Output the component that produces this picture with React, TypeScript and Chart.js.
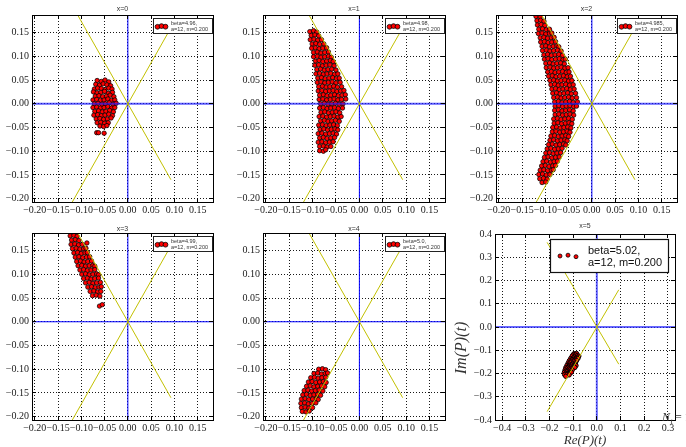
import React, { useEffect, useRef } from "react";
import { Chart, registerables } from "chart.js";
Chart.register(...registerables);

// ---------- data ----------
const titles = ["x=0", "x=1", "x=2", "x=3", "x=4", "x=5"];
const betaLabels = ["beta=4.96,", "beta=4.98,", "beta=4.985,", "beta=4.99,", "beta=5.0,", "beta=5.02,"];
const paramLabel = "a=12, m=0.200";
const smallTicks = [-0.2, -0.15, -0.1, -0.05, 0, 0.05, 0.1, 0.15];
const bigXTicks = [-0.4, -0.3, -0.2, -0.1, 0, 0.1, 0.2, 0.3];
const bigYTicks = [-0.4, -0.3, -0.2, -0.1, 0, 0.1, 0.2, 0.3, 0.4];
const smallRange = { xmin: -0.206, xmax: 0.183, ymin: -0.207, ymax: 0.187 };
const bigRange = { xmin: -0.43, xmax: 0.33, ymin: -0.4, ymax: 0.4 };
const yellowA: [number, number][] = [[-0.21, 0.364], [0.0925, -0.16]];
const yellowB: [number, number][] = [[-0.21, -0.364], [0.0925, 0.16]];
const hLine: [number, number][] = [[-1, 0], [1, 0]];
const vLine: [number, number][] = [[0, -1], [0, 1]];

const cloud0: [number, number][] = [
  [-0.066,0.049],[-0.057,0.047],[-0.049,0.050],[-0.041,0.046],
  [-0.069,0.041],[-0.061,0.039],[-0.053,0.042],[-0.045,0.040],[-0.037,0.038],
  [-0.072,0.031],[-0.065,0.033],[-0.057,0.032],[-0.049,0.030],[-0.041,0.033],[-0.034,0.031],
  [-0.074,0.025],[-0.066,0.023],[-0.058,0.024],[-0.050,0.026],[-0.042,0.022],[-0.033,0.024],
  [-0.070,0.016],[-0.062,0.017],[-0.054,0.015],[-0.046,0.016],[-0.038,0.018],[-0.030,0.015],
  [-0.075,0.008],[-0.067,0.009],[-0.059,0.007],[-0.051,0.008],[-0.043,0.010],[-0.035,0.007],[-0.028,0.008],
  [-0.072,0.000],[-0.064,0.001],[-0.056,-0.001],[-0.048,0.000],[-0.040,0.002],[-0.032,-0.001],[-0.025,0.001],
  [-0.075,-0.008],[-0.067,-0.007],[-0.059,-0.009],[-0.051,-0.008],[-0.043,-0.006],[-0.035,-0.009],[-0.028,-0.008],
  [-0.071,-0.016],[-0.063,-0.015],[-0.055,-0.017],[-0.047,-0.016],[-0.039,-0.014],[-0.031,-0.017],
  [-0.073,-0.024],[-0.065,-0.023],[-0.057,-0.025],[-0.049,-0.024],[-0.041,-0.022],[-0.033,-0.025],
  [-0.068,-0.032],[-0.060,-0.031],[-0.052,-0.033],[-0.044,-0.032],[-0.036,-0.030],
  [-0.066,-0.040],[-0.058,-0.039],[-0.050,-0.041],[-0.042,-0.040],
  [-0.060,-0.047],[-0.052,-0.048],[-0.045,-0.046],
  [-0.067,-0.061],[-0.063,-0.061],[-0.051,-0.062],
];

const cloud1: [number, number][] = [
  [-0.106,0.152],[-0.098,0.154],[-0.091,0.151],
  [-0.103,0.144],[-0.095,0.145],[-0.087,0.143],
  [-0.105,0.135],[-0.097,0.136],[-0.089,0.134],[-0.081,0.135],
  [-0.101,0.126],[-0.093,0.127],[-0.085,0.125],[-0.076,0.126],
  [-0.102,0.117],[-0.094,0.118],[-0.086,0.116],[-0.078,0.117],[-0.070,0.118],
  [-0.098,0.108],[-0.090,0.109],[-0.082,0.107],[-0.074,0.108],[-0.066,0.109],
  [-0.098,0.099],[-0.090,0.100],[-0.082,0.098],[-0.074,0.099],[-0.066,0.100],[-0.060,0.098],
  [-0.094,0.090],[-0.086,0.091],[-0.078,0.089],[-0.070,0.090],[-0.062,0.091],[-0.056,0.089],
  [-0.095,0.081],[-0.087,0.082],[-0.079,0.080],[-0.071,0.081],[-0.063,0.082],[-0.054,0.080],
  [-0.091,0.072],[-0.083,0.073],[-0.075,0.071],[-0.067,0.072],[-0.059,0.073],[-0.050,0.071],
  [-0.093,0.063],[-0.085,0.064],[-0.077,0.062],[-0.069,0.063],[-0.061,0.064],[-0.053,0.062],[-0.046,0.063],
  [-0.089,0.054],[-0.081,0.055],[-0.073,0.053],[-0.065,0.054],[-0.057,0.055],[-0.049,0.053],[-0.043,0.054],
  [-0.090,0.045],[-0.082,0.046],[-0.074,0.044],[-0.066,0.045],[-0.058,0.046],[-0.050,0.044],[-0.041,0.045],
  [-0.087,0.036],[-0.079,0.037],[-0.071,0.035],[-0.063,0.036],[-0.055,0.037],[-0.047,0.035],[-0.038,0.036],
  [-0.088,0.027],[-0.080,0.028],[-0.072,0.026],[-0.064,0.027],[-0.056,0.028],[-0.048,0.026],[-0.040,0.027],[-0.033,0.028],
  [-0.085,0.018],[-0.077,0.019],[-0.069,0.017],[-0.061,0.018],[-0.053,0.019],[-0.045,0.017],[-0.037,0.018],[-0.030,0.019],
  [-0.086,0.009],[-0.078,0.010],[-0.070,0.008],[-0.062,0.009],[-0.054,0.010],[-0.046,0.008],[-0.038,0.009],[-0.029,0.010],
  [-0.083,0.000],[-0.075,0.001],[-0.067,-0.001],[-0.059,0.000],[-0.051,0.001],[-0.043,-0.001],[-0.035,0.000],
  [-0.085,-0.009],[-0.077,-0.008],[-0.069,-0.010],[-0.061,-0.009],[-0.053,-0.008],[-0.045,-0.010],[-0.036,-0.009],
  [-0.082,-0.018],[-0.074,-0.017],[-0.066,-0.019],[-0.058,-0.018],[-0.050,-0.017],[-0.042,-0.019],
  [-0.086,-0.027],[-0.078,-0.026],[-0.070,-0.028],[-0.062,-0.027],[-0.054,-0.026],[-0.046,-0.028],[-0.039,-0.027],
  [-0.083,-0.036],[-0.075,-0.035],[-0.067,-0.037],[-0.059,-0.036],[-0.051,-0.035],[-0.043,-0.037],
  [-0.087,-0.045],[-0.079,-0.044],[-0.071,-0.046],[-0.063,-0.045],[-0.055,-0.044],[-0.047,-0.046],
  [-0.084,-0.054],[-0.076,-0.053],[-0.068,-0.055],[-0.060,-0.054],[-0.052,-0.053],[-0.046,-0.055],
  [-0.088,-0.063],[-0.080,-0.062],[-0.072,-0.064],[-0.064,-0.063],[-0.056,-0.062],[-0.049,-0.064],
  [-0.085,-0.072],[-0.077,-0.071],[-0.069,-0.073],[-0.061,-0.072],[-0.053,-0.071],
  [-0.088,-0.081],[-0.080,-0.080],[-0.072,-0.082],[-0.064,-0.081],[-0.056,-0.080],
  [-0.085,-0.090],[-0.077,-0.089],[-0.069,-0.091],[-0.061,-0.090],
  [-0.085,-0.099],[-0.077,-0.100],[-0.072,-0.097],
];

const cloud2: [number, number][] = [
  [-0.120,0.184],[-0.111,0.183],
  [-0.118,0.175],[-0.110,0.176],[-0.103,0.174],
  [-0.117,0.166],[-0.109,0.167],[-0.101,0.165],
  [-0.114,0.157],[-0.106,0.158],[-0.098,0.156],[-0.091,0.157],
  [-0.115,0.148],[-0.107,0.149],[-0.099,0.147],[-0.091,0.148],[-0.086,0.149],
  [-0.111,0.139],[-0.103,0.140],[-0.095,0.138],[-0.087,0.139],[-0.081,0.140],
  [-0.110,0.130],[-0.102,0.131],[-0.094,0.129],[-0.086,0.130],[-0.078,0.131],
  [-0.107,0.121],[-0.099,0.122],[-0.091,0.120],[-0.083,0.121],[-0.075,0.122],[-0.071,0.120],
  [-0.106,0.112],[-0.098,0.113],[-0.090,0.111],[-0.082,0.112],[-0.074,0.113],[-0.066,0.111],
  [-0.103,0.103],[-0.095,0.104],[-0.087,0.102],[-0.079,0.103],[-0.071,0.104],[-0.063,0.102],
  [-0.102,0.094],[-0.094,0.095],[-0.086,0.093],[-0.078,0.094],[-0.070,0.095],[-0.062,0.093],[-0.057,0.094],
  [-0.099,0.085],[-0.091,0.086],[-0.083,0.084],[-0.075,0.085],[-0.067,0.086],[-0.059,0.084],
  [-0.098,0.076],[-0.090,0.077],[-0.082,0.075],[-0.074,0.076],[-0.066,0.077],[-0.058,0.075],[-0.051,0.076],
  [-0.095,0.067],[-0.087,0.068],[-0.079,0.066],[-0.071,0.067],[-0.063,0.068],[-0.055,0.066],[-0.049,0.067],
  [-0.093,0.058],[-0.085,0.059],[-0.077,0.057],[-0.069,0.058],[-0.061,0.059],[-0.053,0.057],[-0.046,0.058],
  [-0.090,0.049],[-0.082,0.050],[-0.074,0.048],[-0.066,0.049],[-0.058,0.050],[-0.050,0.048],[-0.043,0.049],
  [-0.088,0.040],[-0.080,0.041],[-0.072,0.039],[-0.064,0.040],[-0.056,0.041],[-0.048,0.039],[-0.040,0.040],
  [-0.086,0.031],[-0.078,0.032],[-0.070,0.030],[-0.062,0.031],[-0.054,0.032],[-0.046,0.030],[-0.038,0.031],
  [-0.084,0.022],[-0.076,0.023],[-0.068,0.021],[-0.060,0.022],[-0.052,0.023],[-0.044,0.021],[-0.035,0.022],
  [-0.082,0.013],[-0.074,0.014],[-0.066,0.012],[-0.058,0.013],[-0.050,0.014],[-0.042,0.012],[-0.033,0.013],
  [-0.080,0.004],[-0.072,0.005],[-0.064,0.003],[-0.056,0.004],[-0.048,0.005],[-0.040,0.003],[-0.031,0.004],
  [-0.079,-0.005],[-0.071,-0.004],[-0.063,-0.006],[-0.055,-0.005],[-0.047,-0.004],[-0.039,-0.006],[-0.033,-0.005],
  [-0.080,-0.014],[-0.072,-0.013],[-0.064,-0.015],[-0.056,-0.014],[-0.048,-0.013],[-0.040,-0.015],
  [-0.079,-0.023],[-0.071,-0.022],[-0.063,-0.024],[-0.055,-0.023],[-0.047,-0.022],[-0.039,-0.024],
  [-0.082,-0.032],[-0.074,-0.031],[-0.066,-0.033],[-0.058,-0.032],[-0.050,-0.031],[-0.042,-0.033],
  [-0.081,-0.041],[-0.073,-0.040],[-0.065,-0.042],[-0.057,-0.041],[-0.049,-0.040],[-0.043,-0.042],
  [-0.084,-0.050],[-0.076,-0.049],[-0.068,-0.051],[-0.060,-0.050],[-0.052,-0.049],[-0.045,-0.051],
  [-0.085,-0.059],[-0.077,-0.058],[-0.069,-0.060],[-0.061,-0.059],[-0.053,-0.058],[-0.047,-0.060],
  [-0.088,-0.068],[-0.080,-0.067],[-0.072,-0.069],[-0.064,-0.068],[-0.056,-0.067],[-0.050,-0.069],
  [-0.090,-0.077],[-0.082,-0.076],[-0.074,-0.078],[-0.066,-0.077],[-0.058,-0.076],[-0.053,-0.078],
  [-0.093,-0.086],[-0.085,-0.085],[-0.077,-0.087],[-0.069,-0.086],[-0.061,-0.085],[-0.056,-0.087],
  [-0.096,-0.095],[-0.088,-0.094],[-0.080,-0.096],[-0.072,-0.095],[-0.064,-0.094],
  [-0.099,-0.104],[-0.091,-0.103],[-0.083,-0.105],[-0.075,-0.104],[-0.067,-0.103],
  [-0.102,-0.113],[-0.094,-0.112],[-0.086,-0.114],[-0.078,-0.113],[-0.070,-0.112],
  [-0.105,-0.122],[-0.097,-0.121],[-0.089,-0.123],[-0.081,-0.122],[-0.074,-0.121],
  [-0.108,-0.131],[-0.100,-0.130],[-0.092,-0.132],[-0.084,-0.131],[-0.078,-0.130],
  [-0.111,-0.140],[-0.103,-0.139],[-0.095,-0.141],[-0.087,-0.140],[-0.083,-0.139],
  [-0.114,-0.149],[-0.106,-0.148],[-0.098,-0.150],[-0.090,-0.149],
  [-0.112,-0.158],[-0.104,-0.157],[-0.096,-0.159],
  [-0.107,-0.166],[-0.099,-0.165],
];

const cloud3: [number, number][] = [
  [-0.124,0.181],[-0.116,0.182],[-0.109,0.180],
  [-0.121,0.172],[-0.113,0.173],[-0.105,0.171],
  [-0.122,0.163],[-0.114,0.164],[-0.106,0.162],[-0.098,0.163],
  [-0.119,0.154],[-0.111,0.155],[-0.103,0.153],[-0.095,0.154],[-0.090,0.155],
  [-0.116,0.145],[-0.108,0.146],[-0.100,0.144],[-0.092,0.145],[-0.087,0.146],
  [-0.113,0.136],[-0.105,0.137],[-0.097,0.135],[-0.089,0.136],[-0.082,0.137],
  [-0.110,0.127],[-0.102,0.128],[-0.094,0.126],[-0.086,0.127],[-0.078,0.128],
  [-0.107,0.118],[-0.099,0.119],[-0.091,0.117],[-0.083,0.118],[-0.075,0.119],[-0.071,0.117],
  [-0.103,0.109],[-0.095,0.110],[-0.087,0.108],[-0.079,0.109],[-0.071,0.110],
  [-0.099,0.100],[-0.091,0.101],[-0.083,0.099],[-0.075,0.100],[-0.067,0.101],[-0.063,0.099],
  [-0.095,0.091],[-0.087,0.092],[-0.079,0.090],[-0.071,0.091],[-0.063,0.092],
  [-0.091,0.082],[-0.083,0.083],[-0.075,0.081],[-0.067,0.082],[-0.059,0.083],
  [-0.086,0.073],[-0.078,0.074],[-0.070,0.072],[-0.062,0.073],[-0.057,0.074],
  [-0.081,0.064],[-0.073,0.065],[-0.065,0.063],[-0.058,0.064],
  [-0.076,0.055],[-0.068,0.056],[-0.060,0.054],
  [-0.061,0.033],[-0.055,0.036],[-0.088,0.166],
];

const cloud4: [number, number][] = [
  [-0.087,-0.100],[-0.079,-0.099],[-0.072,-0.101],
  [-0.097,-0.109],[-0.089,-0.108],[-0.081,-0.110],[-0.073,-0.109],[-0.068,-0.108],
  [-0.104,-0.118],[-0.096,-0.117],[-0.088,-0.119],[-0.080,-0.118],[-0.072,-0.117],
  [-0.109,-0.127],[-0.101,-0.126],[-0.093,-0.128],[-0.085,-0.127],[-0.077,-0.126],[-0.071,-0.128],
  [-0.113,-0.136],[-0.105,-0.135],[-0.097,-0.137],[-0.089,-0.136],[-0.081,-0.135],[-0.074,-0.137],
  [-0.118,-0.145],[-0.110,-0.144],[-0.102,-0.146],[-0.094,-0.145],[-0.086,-0.144],[-0.078,-0.146],
  [-0.121,-0.154],[-0.113,-0.153],[-0.105,-0.155],[-0.097,-0.154],[-0.089,-0.153],[-0.083,-0.155],
  [-0.124,-0.163],[-0.116,-0.162],[-0.108,-0.164],[-0.100,-0.163],[-0.092,-0.162],[-0.088,-0.164],
  [-0.125,-0.172],[-0.117,-0.171],[-0.109,-0.173],[-0.101,-0.172],[-0.093,-0.171],
  [-0.124,-0.181],[-0.116,-0.180],[-0.108,-0.182],[-0.100,-0.181],
  [-0.122,-0.189],[-0.114,-0.190],[-0.107,-0.188],
];

const cloud5: [number, number][] = [
  [-0.096,-0.115],[-0.086,-0.114],
  [-0.100,-0.120],[-0.090,-0.120],
  [-0.104,-0.125],[-0.094,-0.126],[-0.084,-0.124],[-0.076,-0.125],
  [-0.095,-0.130],[-0.080,-0.130],
  [-0.110,-0.135],[-0.100,-0.134],[-0.090,-0.136],[-0.080,-0.135],
  [-0.105,-0.140],[-0.091,-0.140],
  [-0.116,-0.145],[-0.106,-0.146],[-0.096,-0.144],[-0.086,-0.145],
  [-0.111,-0.150],[-0.097,-0.150],
  [-0.121,-0.155],[-0.111,-0.154],[-0.101,-0.156],[-0.091,-0.155],
  [-0.117,-0.160],[-0.103,-0.160],[-0.091,-0.160],
  [-0.126,-0.165],[-0.116,-0.166],[-0.106,-0.164],[-0.096,-0.165],[-0.088,-0.166],
  [-0.121,-0.170],[-0.107,-0.170],[-0.097,-0.170],
  [-0.131,-0.175],[-0.121,-0.174],[-0.111,-0.176],[-0.101,-0.175],[-0.093,-0.174],
  [-0.128,-0.180],[-0.117,-0.180],[-0.108,-0.180],
  [-0.134,-0.185],[-0.124,-0.186],[-0.114,-0.184],[-0.104,-0.185],
  [-0.130,-0.190],[-0.120,-0.190],[-0.112,-0.190],
  [-0.137,-0.195],[-0.127,-0.194],[-0.117,-0.196],[-0.108,-0.195],
  [-0.131,-0.200],[-0.122,-0.200],
  [-0.136,-0.205],[-0.126,-0.204],[-0.117,-0.206],
  [-0.131,-0.212],
];

const clouds = [cloud0, cloud1, cloud2, cloud3, cloud4, cloud5];

// ---------- layout / style ----------
type PanelCfg = {
  idx: number; cx: number; cy: number; cw: number; ch: number;
  yw: number; padTop: number; padRight: number; padBottom: number;
  big: boolean; hW: number; hC: string; vW: number; vC: string; titleDy: number;
};

const panels: PanelCfg[] = [
  { idx: 0, cx: 0, cy: 0, cw: 221, ch: 228, yw: 32, padTop: 15, padRight: 8, padBottom: 2, big: false, hW: 2, hC: "rgba(30,30,255,0.7)", vW: 1, vC: "#0000ff", titleDy: 5.8 },
  { idx: 1, cx: 231, cy: 0, cw: 222, ch: 228, yw: 32, padTop: 15, padRight: 8, padBottom: 2, big: false, hW: 2, hC: "rgba(30,30,255,0.7)", vW: 1, vC: "#0000ff", titleDy: 5.8 },
  { idx: 2, cx: 464, cy: 0, cw: 221, ch: 228, yw: 32, padTop: 15, padRight: 8, padBottom: 2, big: false, hW: 2, hC: "rgba(30,30,255,0.7)", vW: 1, vC: "#0000ff", titleDy: 5.8 },
  { idx: 3, cx: 0, cy: 218, cw: 221, ch: 228, yw: 32, padTop: 15, padRight: 8, padBottom: 2, big: false, hW: 1, hC: "#0000ff", vW: 1, vC: "#0000ff", titleDy: 4 },
  { idx: 4, cx: 231, cy: 218, cw: 222, ch: 228, yw: 32, padTop: 15, padRight: 8, padBottom: 2, big: false, hW: 1, hC: "#0000ff", vW: 1, vC: "#0000ff", titleDy: 4 },
  { idx: 5, cx: 445, cy: 220, cw: 241, ch: 227, yw: 50, padTop: 14, padRight: 11, padBottom: 3, big: true, hW: 2, hC: "rgba(40,40,255,0.7)", vW: 2, vC: "rgba(40,40,255,0.7)", titleDy: 8 },
];

const toXY = (arr: [number, number][]) => arr.map(([x, y]) => ({ x, y }));
const fmt = (v: number, d: number) => (v < -1e-9 ? "\u2212" : "") + Math.abs(v).toFixed(d);
const align = (p: number) => Math.round(p - 0.5) + 0.5;

function overlayPlugin(p: PanelCfg) {
  const xt = p.big ? bigXTicks : smallTicks;
  const yt = p.big ? bigYTicks : smallTicks;
  return {
    id: "overlay" + p.idx,
    afterDatasetsDraw(chart: any) {
      const { ctx, chartArea: a, scales } = chart;
      ctx.save();
      ctx.strokeStyle = "#000";
      ctx.lineWidth = 1;
      ctx.setLineDash([]);
      ctx.beginPath();
      for (const v of xt) {
        const px = align(scales.x.getPixelForValue(v));
        ctx.moveTo(px, a.top); ctx.lineTo(px, a.top + 4);
        ctx.moveTo(px, a.bottom); ctx.lineTo(px, a.bottom - 4);
      }
      for (const v of yt) {
        const py = align(scales.y.getPixelForValue(v));
        ctx.moveTo(a.left, py); ctx.lineTo(a.left + 4, py);
        ctx.moveTo(a.right, py); ctx.lineTo(a.right - 4, py);
      }
      ctx.stroke();
      ctx.strokeRect(align(a.left), align(a.top), Math.round(a.right - a.left), Math.round(a.bottom - a.top));
      ctx.restore();
    },
    afterDraw(chart: any) {
      const { ctx, chartArea: a } = chart;
      ctx.save();
      // title
      ctx.fillStyle = "#333";
      ctx.font = "7px 'Liberation Sans', Arial, sans-serif";
      ctx.textAlign = "center";
      ctx.textBaseline = "middle";
      ctx.fillText(titles[p.idx], (a.left + a.right) / 2, a.top - p.titleDy);
      // legend
      const drawMarker = (x: number, y: number, r: number) => {
        ctx.beginPath();
        ctx.arc(x, y, r, 0, Math.PI * 2);
        ctx.fillStyle = "#ff0000";
        ctx.fill();
        ctx.lineWidth = 0.8;
        ctx.strokeStyle = "#000";
        ctx.stroke();
      };
      if (!p.big) {
        const bx = a.right - 60, by = a.top + 3, bw = 59, bh = 15;
        ctx.fillStyle = "#fff";
        ctx.fillRect(bx, by, bw, bh);
        ctx.lineWidth = 1;
        ctx.strokeStyle = "#222";
        ctx.strokeRect(align(bx), align(by), bw, bh);
        const offs = [0.3, -0.4, 0.2];
        [4.5, 8.5, 12.5].forEach((dx, i) => drawMarker(bx + dx, by + 8.5 + offs[i], 2.4));
        ctx.fillStyle = "#333";
        ctx.font = "5.5px 'Liberation Sans', Arial, sans-serif";
        ctx.textAlign = "left";
        ctx.textBaseline = "alphabetic";
        ctx.fillText(betaLabels[p.idx], bx + 18, by + 7);
        ctx.fillText(paramLabel, bx + 18, by + 13);
      } else {
        const bx = a.right - 125, by = a.top + 5, bw = 118, bh = 33;
        ctx.fillStyle = "#fff";
        ctx.fillRect(bx, by, bw, bh);
        ctx.lineWidth = 1.2;
        ctx.strokeStyle = "#111";
        ctx.strokeRect(align(bx), align(by), bw, bh);
        const offs = [0.5, -0.3, 1.2];
        [10, 18, 26].forEach((dx, i) => drawMarker(bx + dx, by + 16.5 + offs[i], 2));
        ctx.fillStyle = "#111";
        ctx.font = "11px 'Liberation Sans', Arial, sans-serif";
        ctx.textAlign = "left";
        ctx.textBaseline = "alphabetic";
        ctx.fillText(betaLabels[p.idx], bx + 38, by + 14.5);
        ctx.fillText(paramLabel, bx + 38, by + 26.5);
        // axis labels
        ctx.fillStyle = "#333";
        ctx.font = "italic 13px 'Liberation Serif', 'DejaVu Serif', serif";
        ctx.textAlign = "center";
        ctx.textBaseline = "middle";
        ctx.fillText("Re(P)(t)", (a.left + a.right) / 2, 221);
        ctx.save();
        ctx.translate(17, 128);
        ctx.rotate(-Math.PI / 2);
        ctx.font = "italic 16px 'Liberation Serif', 'DejaVu Serif', serif";
        ctx.fillText("Im(P)(t)", 0, 0);
        ctx.restore();
        ctx.textAlign = "left";
        ctx.textBaseline = "alphabetic";
        ctx.font = "italic 12px 'Liberation Serif', serif";
        ctx.fillText("N", 217, 201);
        ctx.font = "italic 8px 'Liberation Serif', serif";
        ctx.fillText("t", 225.5, 204);
        ctx.font = "12px 'Liberation Serif', serif";
        ctx.fillText("= 1", 230, 201);
      }
      ctx.restore();
    },
  };
}

function makeChart(canvas: HTMLCanvasElement, p: PanelCfg) {
  const r = p.big ? bigRange : smallRange;
  const xt = p.big ? bigXTicks : smallTicks;
  const yt = p.big ? bigYTicks : smallTicks;
  const dec = p.big ? 1 : 2;
  const tickFont = { family: "'Liberation Serif', 'DejaVu Serif', serif", size: 10 };
  const gridCfg = { color: "rgba(0,0,0,0.9)", lineWidth: 1, drawTicks: false };
  const lineDs = (data: [number, number][], color: string, w: number) => ({
    data: toXY(data), showLine: true, borderColor: color, borderWidth: w,
    pointRadius: 0, fill: false, order: 0,
  });
  return new Chart(canvas, {
    type: "scatter",
    data: {
      datasets: [
        lineDs(yellowA, "#c2c000", 1),
        lineDs(yellowB, "#c2c000", 1),
        lineDs(hLine, p.hC, p.hW),
        lineDs(vLine, p.vC, p.vW),
        {
          data: toXY(clouds[p.idx]), showLine: false, order: 1,
          pointRadius: 2.2, pointBackgroundColor: "#ff0000",
          pointBorderColor: "#000", pointBorderWidth: p.big ? 1 : 0.75,
        },
      ],
    } as any,
    options: {
      responsive: false,
      animation: false,
      events: [],
      layout: { padding: { left: 0, top: p.padTop, right: p.padRight, bottom: p.padBottom } },
      plugins: { legend: { display: false }, tooltip: { enabled: false }, title: { display: false } },
      scales: {
        x: {
          type: "linear", min: r.xmin, max: r.xmax,
          afterBuildTicks: (s: any) => { s.ticks = xt.map((v) => ({ value: v })); },
          afterFit: (s: any) => { s.height = 24; },
          grid: gridCfg,
          border: { display: false, dash: [1, 2] },
          ticks: {
            autoSkip: false, maxRotation: 0, minRotation: 0, padding: 2,
            color: "#1a1a1a", font: tickFont,
            callback: (v: any) => fmt(Number(v), dec),
          },
        },
        y: {
          type: "linear", min: r.ymin, max: r.ymax,
          afterBuildTicks: (s: any) => { s.ticks = yt.map((v) => ({ value: v })); },
          afterFit: (s: any) => { s.width = p.yw; },
          grid: gridCfg,
          border: { display: false, dash: [1, 2] },
          ticks: {
            autoSkip: false, padding: 3, color: "#1a1a1a", font: tickFont,
            callback: (v: any) => fmt(Number(v), dec),
          },
        },
      },
    } as any,
    plugins: [overlayPlugin(p)],
  });
}

function Panel({ p }: { p: PanelCfg }) {
  const ref = useRef<HTMLCanvasElement>(null);
  useEffect(() => {
    const chart = makeChart(ref.current as HTMLCanvasElement, p);
    return () => chart.destroy();
  }, []);
  return (
    <canvas
      ref={ref}
      width={p.cw}
      height={p.ch}
      style={{ position: "absolute", left: p.cx, top: p.cy, width: p.cw, height: p.ch }}
    />
  );
}

export default function App() {
  return (
    <div style={{ position: "absolute", left: 0, top: 0, width: 686, height: 447, background: "#fff", overflow: "hidden" }}>
      {panels.map((p) => (
        <Panel key={p.idx} p={p} />
      ))}
    </div>
  );
}
